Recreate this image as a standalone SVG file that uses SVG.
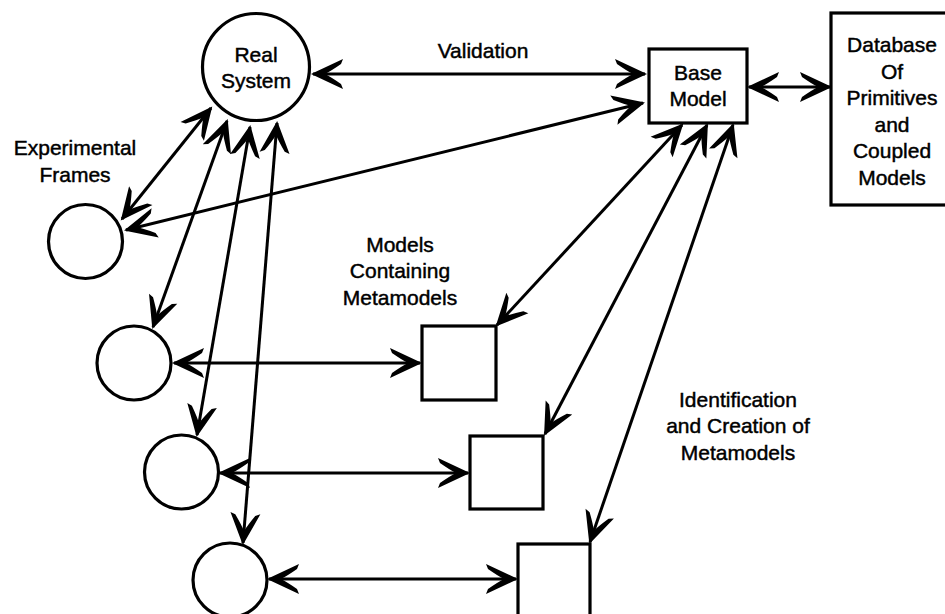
<svg xmlns="http://www.w3.org/2000/svg" width="945" height="614" viewBox="0 0 945 614">
<style>
.n{fill:#fff;stroke:#000;stroke-width:3.2}
.c{stroke:#000;stroke-width:3;fill:none;marker-start:url(#ah);marker-end:url(#ah)}
text{font-family:"Liberation Sans",Arial,Helvetica,sans-serif;font-size:21px;fill:#000;stroke:#000;stroke-width:0.45;text-anchor:middle}
</style>
<defs>
<marker id="ah" viewBox="-32 -17 35 34" refX="0" refY="0" markerWidth="35" markerHeight="34" markerUnits="userSpaceOnUse" orient="auto-start-reverse">
<path d="M2,0 L-30,-15 L-28,-10 Q-18,-3 -12,0 Q-18,3 -28,10 L-30,15 Z" fill="#000"/>
</marker>
</defs>
<rect width="945" height="614" fill="#fff"/>
<g id="connectors">
<line class="c" x1="313" y1="74" x2="645" y2="74"/>
<line class="c" x1="126" y1="230" x2="643" y2="103"/>
<line class="c" x1="749" y1="87" x2="830" y2="87"/>
<line class="c" x1="211" y1="108" x2="122" y2="219"/>
<line class="c" x1="227" y1="121" x2="153" y2="327"/>
<line class="c" x1="250" y1="127" x2="197" y2="435"/>
<line class="c" x1="277" y1="123" x2="243" y2="543"/>
<line class="c" x1="174" y1="363" x2="420" y2="363"/>
<line class="c" x1="220" y1="473" x2="468" y2="473"/>
<line class="c" x1="269" y1="579" x2="516" y2="579"/>
<line class="c" x1="682" y1="125" x2="497" y2="325"/>
<line class="c" x1="707" y1="125" x2="545" y2="434"/>
<line class="c" x1="733" y1="125" x2="590" y2="542"/>
</g>
<g id="real-system">
<circle class="n" cx="256" cy="67" r="53.5"/>
<text x="256" y="62">Real</text>
<text x="256" y="88">System</text>
</g>
<text x="483" y="58">Validation</text>
<g id="base-model">
<rect class="n" x="649" y="49" width="98" height="74"/>
<text x="698" y="80">Base</text>
<text x="698" y="106">Model</text>
</g>
<g id="database">
<rect class="n" x="831" y="13" width="130" height="192"/>
<text x="892" y="52">Database</text>
<text x="892" y="79">Of</text>
<text x="892" y="105">Primitives</text>
<text x="892" y="132">and</text>
<text x="892" y="158">Coupled</text>
<text x="892" y="185">Models</text>
</g>
<g id="experimental-frames-label">
<text x="75" y="155">Experimental</text>
<text x="75" y="182">Frames</text>
</g>
<g id="frame-1"><circle class="n" cx="85.5" cy="241.5" r="37"/></g>
<g id="frame-2"><circle class="n" cx="134" cy="363" r="37"/></g>
<g id="frame-3"><circle class="n" cx="181.5" cy="472" r="37"/></g>
<g id="frame-4"><circle class="n" cx="230" cy="580" r="37"/></g>
<g id="models-label">
<text x="400" y="252">Models</text>
<text x="400" y="278">Containing</text>
<text x="400" y="305">Metamodels</text>
</g>
<g id="metamodel-1"><rect class="n" x="422" y="326" width="74" height="74"/></g>
<g id="metamodel-2"><rect class="n" x="470" y="436" width="73" height="73"/></g>
<g id="metamodel-3"><rect class="n" x="518" y="544" width="72" height="80"/></g>
<g id="identification-label">
<text x="738" y="407">Identification</text>
<text x="738" y="433">and Creation of</text>
<text x="738" y="460">Metamodels</text>
</g>
</svg>
